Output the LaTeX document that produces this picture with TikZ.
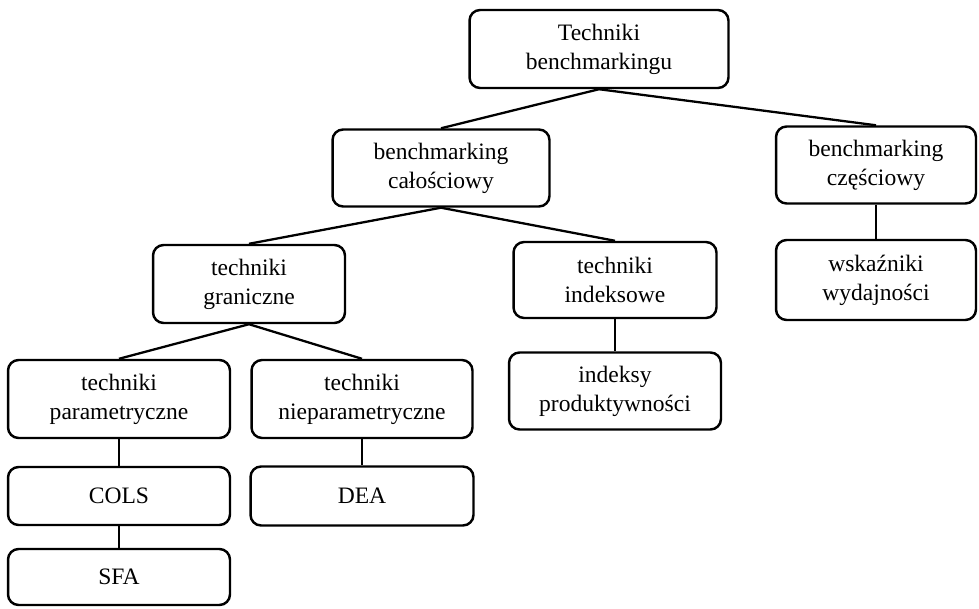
\documentclass[tikz,border=0pt]{standalone}
\usepackage{fontspec}
\setmainfont{Liberation Serif}
\tikzset{
  box/.style={draw, line width=1.4pt, rounded corners=6pt, align=center,
    inner sep=0pt, font=\fontsize{13.4}{16.5}\selectfont},
}
\begin{document}
\begin{tikzpicture}[x=0.02cm, y=-0.02cm]
      \useasboundingbox[fill=white] (0,0) rectangle (979,608);
      \draw
        (599,49) node[box, minimum width=5.18cm, minimum height=1.56cm] (tech){Techniki\\benchmarkingu}
        (441,168) node[box, minimum width=4.34cm, minimum height=1.54cm] (cal){benchmarking\\całościowy}
        (876,165) node[box, minimum width=4.00cm, minimum height=1.54cm] (czes){benchmarking\\częściowy}
        (249,284) node[box, minimum width=3.84cm, minimum height=1.56cm] (gran){techniki\\graniczne}
        (615,280) node[box, minimum width=4.06cm, minimum height=1.52cm] (ind){techniki\\indeksowe}
        (876,280) node[box, minimum width=4.00cm, minimum height=1.60cm] (wsk){wskaźniki\\wydajności}
        (119,399) node[box, minimum width=4.44cm, minimum height=1.56cm] (param){techniki\\parametryczne}
        (362,399) node[box, minimum width=4.42cm, minimum height=1.56cm] (nparam){techniki\\nieparametryczne}
        (615,391) node[box, minimum width=4.24cm, minimum height=1.54cm] (prod){indeksy\\produktywności}
        (119,496) node[box, minimum width=4.44cm, minimum height=1.16cm] (cols){COLS}
        (362,496) node[box, minimum width=4.46cm, minimum height=1.18cm] (dea){DEA}
        (119,577) node[box, minimum width=4.44cm, minimum height=1.12cm] (sfa){SFA};
      \begin{scope}[-, line width=1.3pt]
        \draw (tech.south) to (cal.north);
        \draw (tech.south) to (czes.north);
        \draw (cal.south) to (gran.north);
        \draw (cal.south) to (ind.north);
        \draw (czes.south) to (wsk.north);
        \draw (gran.south) to (param.north);
        \draw (gran.south) to (nparam.north);
        \draw (ind.south) to (prod.north);
        \draw (param.south) to (cols.north);
        \draw (cols.south) to (sfa.north);
        \draw (nparam.south) to (dea.north);
      \end{scope}
    \end{tikzpicture}
\end{document}
